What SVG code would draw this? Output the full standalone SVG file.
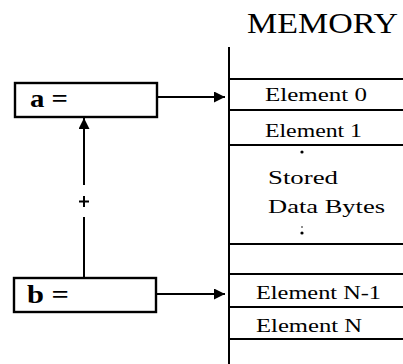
<svg xmlns="http://www.w3.org/2000/svg" width="403" height="364" viewBox="0 0 403 364">
<defs>
<marker id="ah" viewBox="0 0 10 10" refX="10" refY="5" markerWidth="18" markerHeight="11" markerUnits="userSpaceOnUse" orient="auto">
<path d="M0,0 L10,5 L0,10 z" fill="#000"/>
</marker>
</defs>
<style>
.ln{stroke:#000;stroke-width:2;fill:none}
.box{stroke:#000;stroke-width:2.4;fill:#fff}
.el{font-family:"Liberation Serif","Times New Roman",serif;font-size:19.5px;fill:#000}
.var{font-family:"Liberation Serif","Times New Roman",serif;font-size:25px;font-weight:bold;fill:#000}
.title{font-family:"Liberation Serif","Times New Roman",serif;font-size:29px;fill:#000}
</style>
<rect width="403" height="364" fill="#fff"/>
<text class="title" x="247" y="33" textLength="151" lengthAdjust="spacingAndGlyphs">MEMORY</text>
<g id="memory">
<line class="ln" x1="229" y1="47" x2="229" y2="364"/>
<line class="ln" x1="229" y1="79" x2="403" y2="79"/>
<line class="ln" x1="229" y1="110" x2="403" y2="110"/>
<line class="ln" x1="229" y1="145" x2="403" y2="145"/>
<line class="ln" x1="229" y1="244" x2="403" y2="244"/>
<line class="ln" x1="229" y1="274" x2="403" y2="274"/>
<line class="ln" x1="229" y1="307" x2="403" y2="307"/>
<line class="ln" x1="229" y1="339" x2="403" y2="339"/>
<text class="el" x="265" y="101" textLength="102" lengthAdjust="spacingAndGlyphs">Element 0</text>
<text class="el" x="265" y="137" textLength="97" lengthAdjust="spacingAndGlyphs">Element 1</text>
<circle cx="302" cy="152" r="1.6" fill="#000"/>
<text class="el" x="268" y="184" textLength="70" lengthAdjust="spacingAndGlyphs">Stored</text>
<text class="el" x="268" y="213" textLength="117" lengthAdjust="spacingAndGlyphs">Data Bytes</text>
<circle cx="302" cy="227" r="0.8" fill="#000"/>
<circle cx="302" cy="233" r="1.6" fill="#000"/>
<text class="el" x="256" y="299" textLength="125" lengthAdjust="spacingAndGlyphs">Element N-1</text>
<text class="el" x="256" y="332" textLength="106" lengthAdjust="spacingAndGlyphs">Element N</text>
</g>
<g id="node-a">
<rect class="box" x="15" y="83" width="142" height="34"/>
<text class="var" x="30" y="107" textLength="38" lengthAdjust="spacingAndGlyphs">a =</text>
</g>
<g id="node-b">
<rect class="box" x="14" y="278" width="142" height="34"/>
<text class="var" x="27" y="303" textLength="42" lengthAdjust="spacingAndGlyphs">b =</text>
</g>
<g id="connectors">
<line class="ln" x1="157" y1="97" x2="225" y2="97" marker-end="url(#ah)"/>
<line class="ln" x1="156" y1="294" x2="225" y2="294" marker-end="url(#ah)"/>
<line class="ln" x1="84" y1="185" x2="84" y2="118" marker-end="url(#ah)"/>
<line class="ln" x1="84" y1="278" x2="84" y2="217"/>
<line class="ln" x1="84" y1="196" x2="84" y2="207"/>
<line class="ln" x1="79" y1="201.5" x2="89" y2="201.5"/>
</g>
</svg>
